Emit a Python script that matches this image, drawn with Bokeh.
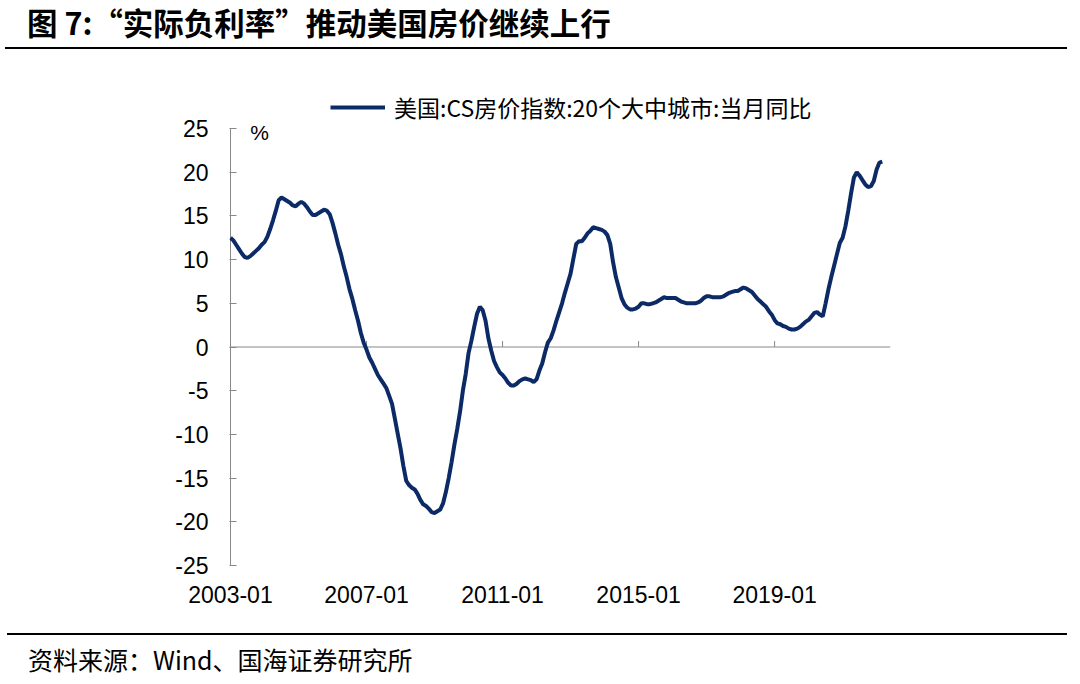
from bokeh.plotting import figure
from bokeh.models import Range1d, FixedTicker, Span, Label, Legend, LegendItem, Div
from bokeh.layouts import column
from bokeh.embed import file_html
from bokeh.resources import INLINE

# ---------------- data ----------------
title_text = "图 7:“实际负利率”推动美国房价继续上行"
source_text = "资料来源：Wind、国海证券研究所"
series_name = "美国:CS房价指数:20个大中城市:当月同比"
unit_text = "%"
start_year, start_month = 2003, 1
tick_labels = ["2003-01", "2007-01", "2011-01", "2015-01", "2019-01"]
y_ticks = [-25, -20, -15, -10, -5, 0, 5, 10, 15, 20, 25]

# US Case-Shiller 20-city YoY (%), monthly
yoy_2003 = [12.5, 12.2, 11.7, 11.2, 10.7, 10.3, 10.2, 10.4, 10.7, 11.0, 11.3, 11.7]
yoy_2004 = [12.0, 12.6, 13.5, 14.5, 15.6, 16.8, 17.1, 16.9, 16.7, 16.5, 16.2, 16.1]
yoy_2005 = [16.4, 16.6, 16.4, 16.0, 15.5, 15.1, 15.1, 15.3, 15.5, 15.7, 15.6, 15.2]
yoy_2006 = [14.2, 13.0, 11.7, 10.6, 9.2, 8.0, 6.6, 5.5, 4.2, 3.0, 1.6, 0.5]
yoy_2007 = [-0.3, -1.2, -1.8, -2.5, -3.2, -3.7, -4.2, -4.7, -5.6, -6.5, -8.2, -9.9]
yoy_2008 = [-11.6, -13.6, -15.3, -15.8, -16.1, -16.3, -16.8, -17.5, -18.0, -18.2, -18.5, -18.9]
yoy_2009 = [-19.0, -18.8, -18.6, -17.9, -16.6, -15.0, -13.2, -11.2, -9.4, -7.4, -5.0, -3.1]
yoy_2010 = [-0.7, 0.7, 2.3, 3.8, 4.6, 4.2, 3.0, 1.0, -0.4, -1.6, -2.3, -2.9]
yoy_2011 = [-3.2, -3.6, -4.1, -4.4, -4.4, -4.2, -3.9, -3.7, -3.6, -3.7, -3.8, -4.0]
yoy_2012 = [-3.7, -2.7, -1.9, -0.6, 0.5, 1.0, 1.9, 3.0, 4.0, 5.0, 6.2, 7.3]
yoy_2013 = [8.4, 10.1, 11.8, 12.1, 12.1, 12.5, 13.0, 13.3, 13.7, 13.6, 13.5, 13.4]
yoy_2014 = [13.2, 12.8, 11.8, 9.7, 8.0, 6.8, 5.6, 4.9, 4.5, 4.3, 4.3, 4.4]
yoy_2015 = [4.6, 5.0, 5.0, 4.9, 4.9, 5.0, 5.1, 5.3, 5.5, 5.7, 5.6, 5.6]
yoy_2016 = [5.6, 5.6, 5.4, 5.2, 5.1, 5.0, 5.0, 5.0, 5.0, 5.1, 5.3, 5.6]
yoy_2017 = [5.8, 5.8, 5.7, 5.7, 5.7, 5.7, 5.8, 6.0, 6.2, 6.3, 6.4, 6.4]
yoy_2018 = [6.6, 6.8, 6.7, 6.5, 6.3, 5.9, 5.5, 5.2, 4.9, 4.6, 4.1, 3.7]
yoy_2019 = [3.1, 2.7, 2.6, 2.4, 2.3, 2.1, 2.0, 2.0, 2.1, 2.3, 2.6, 2.9]
yoy_2020 = [3.1, 3.5, 3.9, 4.0, 3.7, 3.5, 5.0, 6.6, 8.0, 9.3, 10.6, 11.9]
yoy_2021 = [12.5, 13.8, 15.6, 17.6, 19.4, 20.0, 19.6, 19.1, 18.6, 18.3, 18.4, 19.0]
yoy_2022 = [20.3, 21.1, 21.2]

yoy = (yoy_2003 + yoy_2004 + yoy_2005 + yoy_2006 + yoy_2007 + yoy_2008 + yoy_2009
       + yoy_2010 + yoy_2011 + yoy_2012 + yoy_2013 + yoy_2014 + yoy_2015 + yoy_2016
       + yoy_2017 + yoy_2018 + yoy_2019 + yoy_2020 + yoy_2021 + yoy_2022)
months = list(range(len(yoy)))  # months since 2003-01
tick_pos = [(int(s[:4]) - start_year) * 12 + int(s[5:]) - start_month for s in tick_labels]

# ---------------- styles / layout (page pixels) ----------------
W = 1064
NAVY = "#0b2a66"
GRAY = "#888888"
CJK = "Noto Sans CJK SC"
LATIN = "Liberation Sans"
HEAD_H, CHART_H, FOOT_H = 44, 561, 60
CHART_TOP = 55                                 # page y where the chart figure starts
AX_L, AX_R, AX_T, AX_B = 230, 890, 129, 566   # y-axis extent (25 .. -25) on the page
FRAME_T = 86                                   # frame extends above the axis for the legend
PX_PER_UNIT = (AX_B - AX_T) / (max(y_ticks) - min(y_ticks))
PX_PER_MONTH = (AX_R - AX_L) / 232.9
y_end = max(y_ticks) + (AX_T - FRAME_T) / PX_PER_UNIT
x_start = -1 / PX_PER_MONTH

# ---------------- header ----------------
header = Div(width=W, height=HEAD_H, text=(
    '<div style="position:relative;width:%dpx;height:%dpx;">'
    '<div style="position:absolute;left:22px;top:-1px;font-family:\'%s\';font-weight:bold;'
    'font-size:30.5px;line-height:36px;color:#000;white-space:nowrap;">%s</div>'
    '<div style="position:absolute;left:0px;top:41.5px;width:1062px;height:2px;background:#000;"></div>'
    '</div>') % (W, HEAD_H, CJK, title_text))

# ---------------- chart ----------------
p = figure(width=W, height=CHART_H, x_range=Range1d(x_start, 232.9),
           y_range=Range1d(min(y_ticks), y_end),
           output_backend="svg", toolbar_location=None,
           min_border_left=AX_L - 1, min_border_right=W - AX_R,
           min_border_top=FRAME_T - CHART_TOP, min_border_bottom=CHART_TOP + CHART_H - AX_B,
           outline_line_color=None)
p.grid.visible = False

p.add_layout(Span(location=0, dimension="width", line_color=GRAY, line_width=1, level="underlay"))
tick_len = 6 / PX_PER_UNIT
p.segment(x0=tick_pos, y0=[0] * len(tick_pos), x1=tick_pos, y1=[tick_len] * len(tick_pos),
          line_color=GRAY, line_width=1)
# y-axis line only over the tick extent
p.segment(x0=[0], y0=[min(y_ticks)], x1=[0], y1=[max(y_ticks)], line_color=GRAY, line_width=1)

r = p.line(months, yoy, line_color=NAVY, line_width=4)

p.yaxis.ticker = FixedTicker(ticks=y_ticks)
p.yaxis.major_label_overrides = {t: str(t) for t in y_ticks}
p.yaxis.major_tick_in = 7
p.yaxis.major_tick_out = 0
p.yaxis.minor_tick_line_color = None
p.yaxis.axis_line_color = None
p.yaxis.major_tick_line_color = GRAY
p.yaxis.major_label_text_font = LATIN
p.yaxis.major_label_text_font_size = "23px"
p.yaxis.major_label_text_color = "black"
p.yaxis.major_label_standoff = 21

p.xaxis.ticker = FixedTicker(ticks=tick_pos)
p.xaxis.major_label_overrides = {pos: lab for pos, lab in zip(tick_pos, tick_labels)}
p.xaxis.axis_line_color = None
p.xaxis.major_tick_line_color = None
p.xaxis.minor_tick_line_color = None
p.xaxis.major_tick_in = 0
p.xaxis.major_tick_out = 0
p.xaxis.major_label_text_font = LATIN
p.xaxis.major_label_text_font_size = "23px"
p.xaxis.major_label_text_color = "black"
p.xaxis.major_label_standoff = 20

# unit label
p.add_layout(Label(x=260 - AX_L, y=AX_B - 133, x_units="screen", y_units="screen", text=unit_text,
                   text_font=LATIN, text_font_size="21px", text_align="center",
                   text_baseline="middle", text_color="black"))

legend = Legend(items=[LegendItem(label=series_name, renderers=[r])],
                location=(331 - AX_L, AX_B - 125), orientation="horizontal",
                label_text_font=CJK, label_text_font_size="23px", label_text_color="black",
                glyph_width=55, glyph_height=26, label_height=26, label_standoff=9,
                padding=5, margin=0, border_line_color=None, background_fill_alpha=0)
p.add_layout(legend, "center")

# ---------------- footer ----------------
footer = Div(width=W, height=FOOT_H, text=(
    '<div style="position:relative;width:%dpx;height:%dpx;">'
    '<div style="position:absolute;left:2px;top:13px;width:1060px;height:1.5px;background:#000;"></div>'
    '<div style="position:absolute;left:23px;top:22px;font-family:\'%s\';'
    'font-size:25px;line-height:34px;color:#000;white-space:nowrap;">%s</div>'
    '</div>') % (W, FOOT_H, CJK, source_text))

layout = column(header, p, footer, spacing=0)
open("out.html", "w").write(file_html(layout, INLINE))
